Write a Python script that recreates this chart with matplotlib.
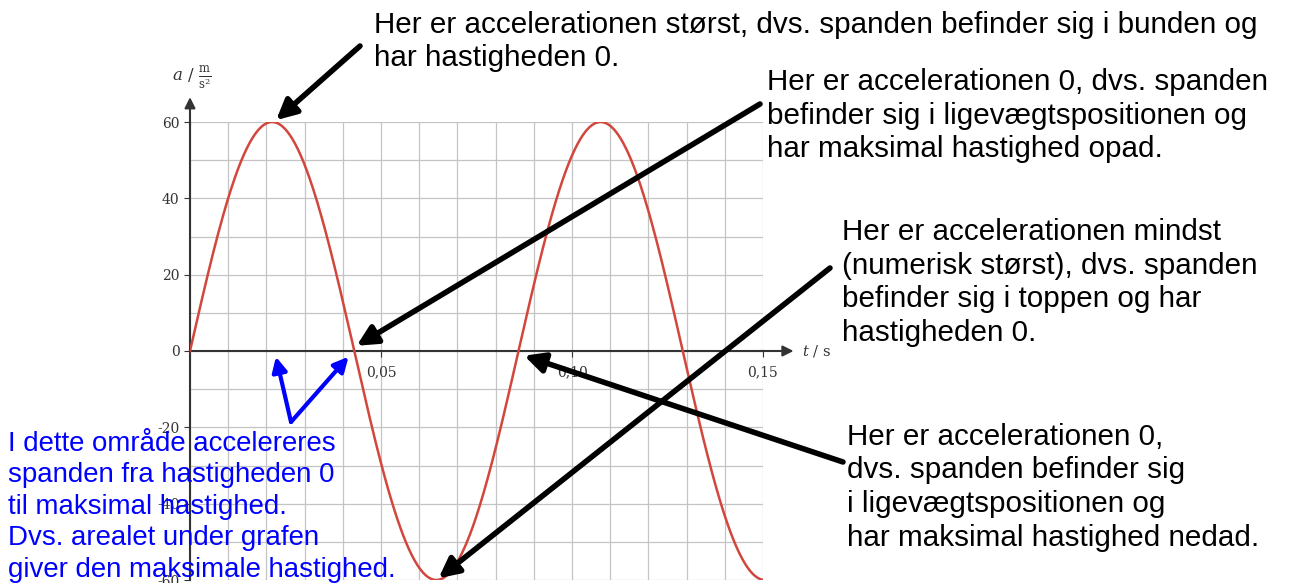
import numpy as np
import matplotlib
matplotlib.use("Agg")
import matplotlib.pyplot as plt

plt.rcParams["mathtext.fontset"] = "dejavuserif"

# data
amplitude = 60.0        # m/s^2
period = 0.086          # s
t_end = 0.15
x_ticks = [0.05, 0.10, 0.15]
x_tick_labels = ["0,05", "0,10", "0,15"]
y_ticks = [-60, -40, -20, 0, 20, 40, 60]
y_tick_labels = ["-60", "-40", "-20", "0", "20", "40", "60"]

W, H = 1290, 583
fig = plt.figure(figsize=(W / 100, H / 100), dpi=100)


def fig_px(x, y):
    # pixel position (origin top-left) -> figure fraction
    return (x / W, 1 - y / H)


ax = fig.add_axes([190 / W, 1 - 580 / H, 573 / W, 458 / H])
ax.set_xlim(0, t_end)
ax.set_ylim(-60, 60)

t = np.linspace(0, t_end, 600)
a = amplitude * np.sin(2 * np.pi * t / period)
ax.plot(t, a, color="#d2473d", lw=1.8, zorder=3)

# grid
ax.set_xticks(np.arange(0, t_end + 1e-9, 0.01), minor=True)
ax.set_yticks(np.arange(-60, 61, 10), minor=True)
ax.grid(which="both", color="#c4c4c4", lw=0.9)
ax.tick_params(which="minor", length=0)

# axes through origin
for side in ["top", "right"]:
    ax.spines[side].set_visible(False)
ax.spines["left"].set_position(("data", 0))
ax.spines["bottom"].set_position(("data", 0))
ax.spines["left"].set_color("#333333")
ax.spines["bottom"].set_color("#333333")
ax.spines["left"].set_linewidth(1.5)
ax.spines["bottom"].set_linewidth(1.5)
ax.set_xticks(x_ticks)
ax.set_xticklabels(x_tick_labels)
ax.set_yticks(y_ticks)
ax.set_yticklabels(y_tick_labels)
ax.tick_params(which="major", length=4, color="#333333", labelsize=10,
               labelcolor="#333333")
ax.tick_params(axis="x", pad=6)
for lab in ax.get_xticklabels() + ax.get_yticklabels():
    lab.set_family("DejaVu Serif")

# axis arrows
ax.annotate("", xy=(0.158, 0), xytext=(0.149, 0), annotation_clip=False,
            arrowprops=dict(arrowstyle="-|>", color="#333333", lw=1.5,
                            mutation_scale=16, shrinkA=0, shrinkB=0))
ax.annotate("", xy=(0, 66.5), xytext=(0, 59), annotation_clip=False,
            arrowprops=dict(arrowstyle="-|>", color="#333333", lw=1.5,
                            mutation_scale=16, shrinkA=0, shrinkB=0))
fig.text(*fig_px(192, 78), r"$a\ /\ \frac{\mathrm{m}}{\mathrm{s}^2}$",
         ha="center", va="center", fontsize=12, color="#333333")
fig.text(*fig_px(802, 351), r"$t$ / s", ha="left", va="center",
         fontsize=10.5, color="#333333", family="DejaVu Serif")

# annotations
txt = dict(family="Liberation Sans", fontsize=21.3, ha="left", va="top",
           linespacing=1.25)
black_arrow = dict(arrowstyle="-|>", color="black", lw=4,
                   mutation_scale=30, shrinkA=0, shrinkB=2)
blue_arrow = dict(arrowstyle="-|>", color="#0000ff", lw=3,
                  mutation_scale=22, shrinkA=0, shrinkB=0)

fig.text(*fig_px(374, 11),
         "Her er accelerationen størst, dvs. spanden befinder sig i bunden og\n"
         "har hastigheden 0.", **txt)
fig.text(*fig_px(767, 68),
         "Her er accelerationen 0, dvs. spanden\n"
         "befinder sig i ligevægtspositionen og\n"
         "har maksimal hastighed opad.", **txt)
fig.text(*fig_px(842, 218),
         "Her er accelerationen mindst\n"
         "(numerisk størst), dvs. spanden\n"
         "befinder sig i toppen og har\n"
         "hastigheden 0.", **txt)
fig.text(*fig_px(847, 423),
         "Her er accelerationen 0,\n"
         "dvs. spanden befinder sig\n"
         "i ligevægtspositionen og\n"
         "har maksimal hastighed nedad.", **txt)
fig.text(*fig_px(8, 431),
         "I dette område accelereres\n"
         "spanden fra hastigheden 0\n"
         "til maksimal hastighed.\n"
         "Dvs. arealet under grafen\n"
         "giver den maksimale hastighed.",
         color="#0000ff", **dict(txt, fontsize=19.9, linespacing=1.27))

fig_tr = fig.transFigure
ax.annotate("", xy=(period / 4 + 0.0005, 60), xytext=fig_px(360, 46),
            textcoords=fig_tr, arrowprops=black_arrow, annotation_clip=False)
ax.annotate("", xy=(period / 2, 1), xytext=fig_px(760, 104),
            textcoords=fig_tr, arrowprops=black_arrow, annotation_clip=False)
ax.annotate("", xy=(3 * period / 4, -60), xytext=fig_px(830, 268),
            textcoords=fig_tr, arrowprops=black_arrow, annotation_clip=False)
ax.annotate("", xy=(period + 0.0008, -1), xytext=fig_px(843, 462),
            textcoords=fig_tr, arrowprops=black_arrow, annotation_clip=False)
ax.annotate("", xy=(0.0225, -1.5), xytext=fig_px(291, 422),
            textcoords=fig_tr, arrowprops=blue_arrow, annotation_clip=False)
ax.annotate("", xy=(0.0415, -1.5), xytext=fig_px(291, 422),
            textcoords=fig_tr, arrowprops=blue_arrow, annotation_clip=False)

fig.savefig("out.png", dpi=100)
